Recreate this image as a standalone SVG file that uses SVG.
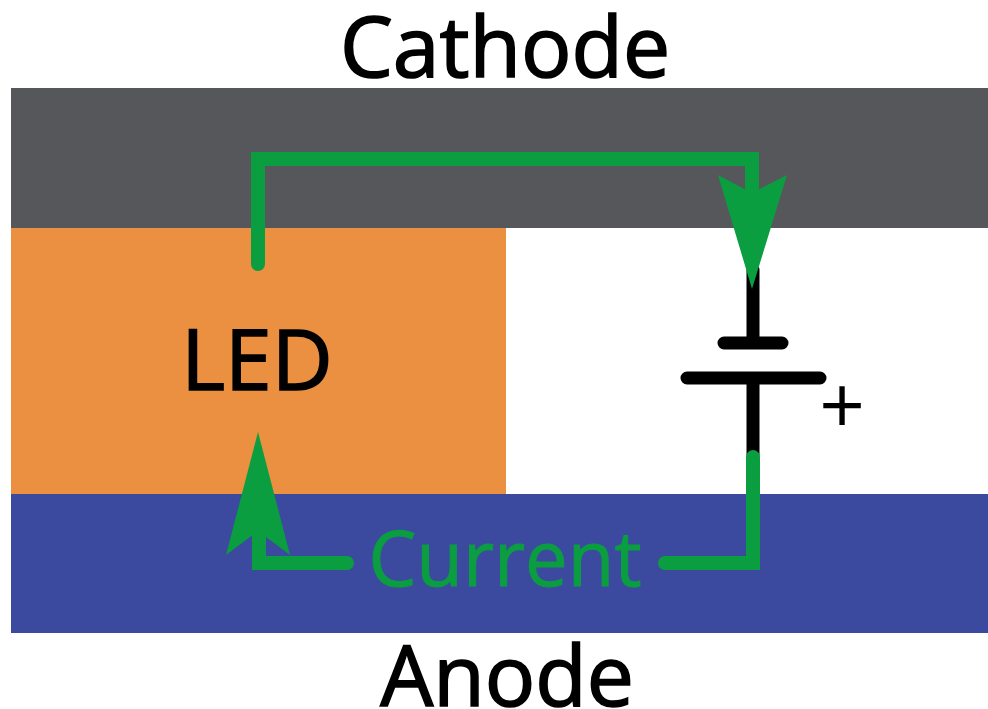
<svg xmlns="http://www.w3.org/2000/svg" width="988" height="709" viewBox="0 0 988 709">
<style>
.t{font-family:"Open Sans","Noto Sans",sans-serif;text-anchor:middle}
.b{font-size:84px;fill:#000;stroke:#000;stroke-width:1.6px}
.g{fill:none;stroke:#0a9e40;stroke-width:14;stroke-linecap:round;stroke-linejoin:miter}
.k{fill:none;stroke:#000;stroke-width:13;stroke-linecap:round}
.a{fill:#0a9e40}
</style>
<rect width="988" height="709" fill="#fff"/>
<g id="cathode"><rect x="11" y="88" width="977" height="140" fill="#55575a"/><text class="t b" x="505" y="77">Cathode</text></g>
<g id="led"><rect x="11" y="228" width="495" height="266" fill="#ea9040"/><text class="t b" x="257" y="390">LED</text></g>
<g id="anode"><rect x="11" y="494" width="977" height="139" fill="#3b4a9f"/><text class="t b" x="507" y="706">Anode</text></g>
<g id="battery">
<path class="k" d="M753 270V343M724 343H782M687 378H820M753 378V455"/>
<text class="t" x="842" y="434" font-size="80" fill="#000">+</text>
</g>
<g id="connectors">
<path class="g" d="M258 264V159H752V200"/>
<path class="a" d="M718 175L752 193L787 175L752 289Z"/>
<path class="g" d="M753 457V563H665"/>
<path class="g" d="M347 563H259V530"/>
<path class="a" d="M258 432L290 555L258 531L226 555Z"/>
</g>
<text id="current" class="t" x="505" y="586" font-size="76" fill="#0a9e40" stroke="#0a9e40" stroke-width="1">Current</text>
</svg>
